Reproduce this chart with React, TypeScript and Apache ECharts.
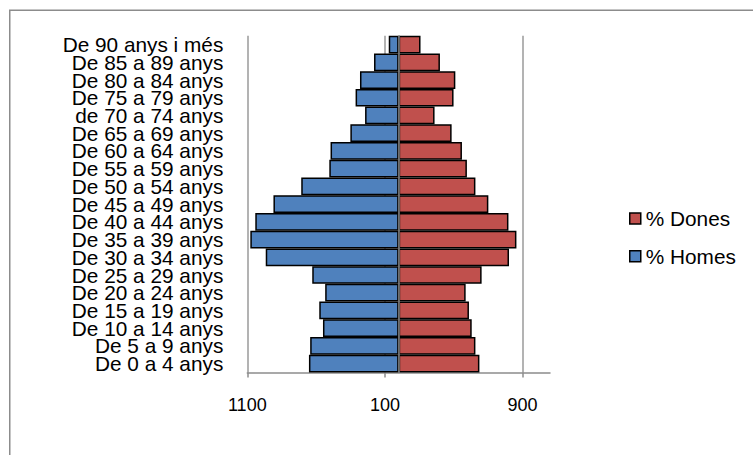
import React, { useEffect, useRef } from "react";
import * as echarts from "echarts";

const categories = [
  "De 0 a 4 anys",
  "De 5 a 9 anys",
  "De 10 a 14 anys",
  "De 15 a 19 anys",
  "De 20 a 24 anys",
  "De 25 a 29 anys",
  "De 30 a 34 anys",
  "De 35 a 39 anys",
  "De 40 a 44 anys",
  "De 45 a 49 anys",
  "De 50 a 54 anys",
  "De 55 a 59 anys",
  "De 60 a 64 anys",
  "De 65 a 69 anys",
  "de 70 a 74 anys",
  "De 75 a 79 anys",
  "De 80 a 84 anys",
  "De 85 a 89 anys",
  "De 90 anys i més",
];

const homes = [652, 643, 550, 577, 534, 628, 966, 1078, 1042, 910, 708, 504, 495, 351, 244, 313, 281, 179, 72];
const dones = [587, 558, 531, 511, 487, 603, 802, 856, 798, 652, 558, 496, 460, 385, 261, 399, 412, 300, 159];

const xTicks = [-1100, -100, 900];
const seriesNames = ["% Homes", "% Dones"];
const legendOrder = ["% Dones", "% Homes"];

const FONT = "Arial, 'Liberation Sans', sans-serif";

export default function App() {
  const ref = useRef<HTMLDivElement>(null);

  useEffect(() => {
    if (!ref.current) return;
    const chart = echarts.init(ref.current, null, { renderer: "svg" });
    chart.setOption({
      animation: false,
      backgroundColor: "#ffffff",
      textStyle: { fontFamily: FONT },
      graphic: [
        {
          type: "rect",
          shape: { x: 9.75, y: 10.25, width: 900, height: 600 },
          style: { fill: "none", stroke: "#8c8c8c", lineWidth: 1.5 },
          silent: true,
          z: 0,
        },
      ],
      grid: {
        left: 247.3,
        right: 203,
        top: 35.7,
        bottom: 82.5,
        containLabel: false,
        outerBoundsMode: "none",
      },
      legend: {
        orient: "vertical",
        left: 629,
        top: 208,
        padding: 0,
        itemWidth: 11,
        itemHeight: 11,
        itemGap: 16.7,
        icon: "rect",
        data: legendOrder,
        itemStyle: { borderColor: "#000", borderWidth: 1.5 },
        textStyle: { fontSize: 20.8, color: "#000", fontFamily: FONT, lineHeight: 21 },
      },
      xAxis: {
        type: "value",
        min: -1100,
        max: 1100,
        interval: 1000,
        axisLine: { show: true, lineStyle: { color: "#8c8c8c", width: 1.5 } },
        axisTick: {
          show: true,
          length: 5,
          customValues: xTicks,
          lineStyle: { color: "#8c8c8c", width: 1.5 },
        },
        axisLabel: {
          customValues: xTicks,
          fontSize: 18,
          color: "#000",
          fontFamily: FONT,
          margin: 23,
          formatter: (v: number) => (v === 1100 ? "" : String(Math.abs(v))),
        },
        splitLine: {
          show: true,
          lineStyle: { color: ["#9a9a9a", "#9a9a9a", "#9a9a9a", "rgba(0,0,0,0)"], width: 1.5 },
        },
      },
      yAxis: [
        {
          type: "category",
          data: categories,
          axisLine: { show: false, onZero: false },
          axisTick: { show: false },
          axisLabel: {
            interval: 0,
            fontSize: 20.8,
            color: "#000",
            fontFamily: FONT,
            margin: 24,
          },
          splitLine: { show: false },
        },
        {
          type: "category",
          data: categories,
          position: "left",
          z: 10,
          axisLine: { show: true, onZero: true, lineStyle: { color: "#808080", width: 1.5 } },
          axisTick: { show: false },
          axisLabel: { show: false },
          splitLine: { show: false },
        },
      ],
      series: [
        {
          name: seriesNames[0],
          type: "bar",
          stack: "total",
          barCategoryGap: "0%",
          data: homes.map((v) => -v),
          itemStyle: { color: "#4f81bd", borderColor: "#000", borderWidth: 1.5 },
        },
        {
          name: seriesNames[1],
          type: "bar",
          stack: "total",
          barCategoryGap: "0%",
          data: dones,
          itemStyle: { color: "#c0504d", borderColor: "#000", borderWidth: 1.5 },
        },
      ],
    });
    return () => chart.dispose();
  }, []);

  return (
    <div
      ref={ref}
      style={{ position: "fixed", left: 0, top: 0, width: 753, height: 455 }}
    />
  );
}
